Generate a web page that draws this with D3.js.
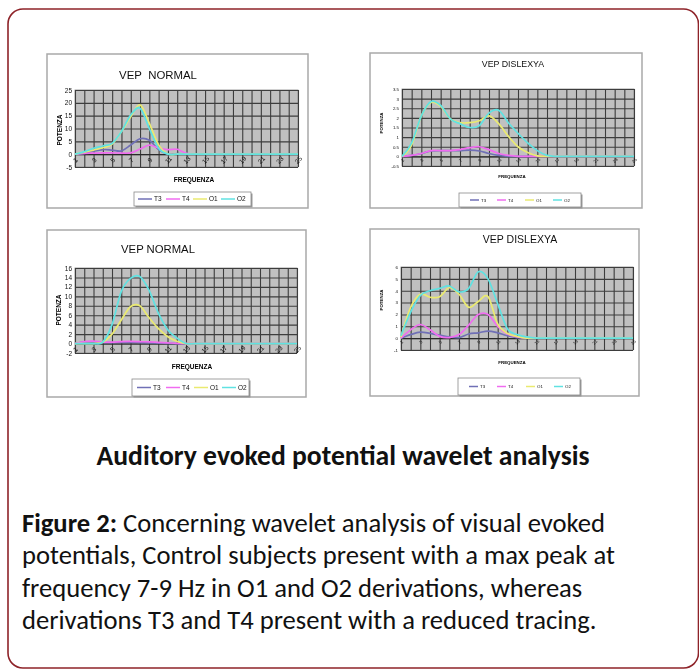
<!DOCTYPE html>
<html>
<head>
<meta charset="utf-8">
<script src="https://cdn.jsdelivr.net/npm/d3@7"></script>
<style>
  html, body { margin: 0; padding: 0; background: #fff; }
  svg { display: block; }
</style>
</head>
<body>
<div id="figure"></div>
<script>
// categories on the frequency axis and the labelled ones
const freq = [1, 2, 3, 4, 5, 6, 7, 8, 9, 10, 11, 12, 13, 14, 15, 16, 17, 18, 19, 20, 21, 22, 23, 24, 25];
const freqTicks = [1, 3, 5, 7, 9, 11, 13, 15, 17, 19, 21, 23, 25];
const seriesNames = ["T3", "T4", "O1", "O2"];
const seriesColors = ["#7070b6", "#f06cf0", "#eaea70", "#60e2e2"];

// VEP NORMAL (top left)
const normA_T3 = [0, 0.3, 1.2, 1.8, 1.6, 1.3, 3.6, 6.0, 5.4, 1.8, 0, 0.2, 0, 0, 0, 0, 0, 0, 0, 0, 0, 0, 0, 0, 0];
const normA_T4 = [0, 0.3, 0.4, 0.5, 0.5, 0.4, 0.5, 2.0, 3.5, 2.4, 1.8, 1.9, 0.3, 0, 0, 0, 0, 0, 0, 0, 0, 0, 0, 0, 0];
const normA_O1 = [0, 0.8, 1.6, 2.5, 3.9, 8.8, 14.6, 19.2, 12.0, 3.6, 0.1, 0, 0, 0, 0, 0, 0, 0, 0, 0, 0, 0, 0, 0, 0];
const normA_O2 = [0, 1.0, 2.3, 3.2, 4.2, 8.8, 15.3, 17.9, 10.0, 2.3, 0, 0, 0, 0, 0, 0, 0, 0, 0, 0, 0, 0, 0, 0, 0];
const normA_yTicks = [-5, 0, 5, 10, 15, 20, 25];

// VEP DISLEXYA (top right)
const dysB_T3 = [0, 0.05, 0.15, 0.28, 0.3, 0.3, 0.3, 0.32, 0.28, 0.15, 0.05, 0, 0, 0, 0, 0, 0, 0, 0, 0, 0, 0, 0, 0, 0];
const dysB_T4 = [0, 0.05, 0.15, 0.3, 0.3, 0.3, 0.35, 0.45, 0.5, 0.35, 0.15, 0.05, 0, 0, 0, 0, 0, 0, 0, 0, 0, 0, 0, 0, 0];
const dysB_O1 = [0, 0.6, 2.1, 2.8, 2.6, 1.95, 1.75, 1.75, 1.85, 2.1, 1.7, 1.05, 0.5, 0.2, 0.03, 0, 0, 0, 0, 0, 0, 0, 0, 0, 0];
const dysB_O2 = [0, 0.7, 2.1, 2.85, 2.65, 1.95, 1.7, 1.5, 1.6, 2.25, 2.4, 1.75, 1.2, 0.7, 0.3, 0.05, 0, 0, 0, 0, 0, 0, 0, 0, 0];
const dysB_yTicks = [-0.5, 0, 0.5, 1, 1.5, 2, 2.5, 3, 3.5];

// VEP NORMAL (bottom left)
const normC_T3 = [0, 0.3, 0.3, 0.2, 0.2, 0.25, 0.25, 0.2, 0.15, 0.1, 0.05, 0, 0, 0, 0, 0, 0, 0, 0, 0, 0, 0, 0, 0, 0];
const normC_T4 = [0, 0.4, 0.5, 0.3, 0.3, 0.4, 0.45, 0.4, 0.35, 0.25, 0.15, 0.05, 0, 0, 0, 0, 0, 0, 0, 0, 0, 0, 0, 0, 0];
const normC_O1 = [0, 0, 0, 0.3, 2.0, 5.0, 7.8, 8.0, 5.5, 3.2, 1.5, 0.5, 0, 0, 0, 0, 0, 0, 0, 0, 0, 0, 0, 0, 0];
const normC_O2 = [0, 0, 0, 0.3, 4.0, 11.0, 13.8, 14.2, 11.3, 6.5, 3.0, 1.2, 0, 0, 0, 0, 0, 0, 0, 0, 0, 0, 0, 0, 0];
const normC_yTicks = [-2, 0, 2, 4, 6, 8, 10, 12, 14, 16];

// VEP DISLEXYA (bottom right)
const dysD_T3 = [0, 0.3, 0.5, 0.4, 0.25, 0.1, 0.05, 0.35, 0.45, 0.6, 0.45, 0.2, 0.05, 0, 0, 0, 0, 0, 0, 0, 0, 0, 0, 0, 0];
const dysD_T4 = [0, 0.7, 1.15, 0.7, 0.15, 0.05, 0.3, 1.1, 2.0, 2.0, 1.0, 0.35, 0.1, 0.02, 0, 0, 0, 0, 0, 0, 0, 0, 0, 0, 0];
const dysD_O1 = [0.1, 2.6, 3.7, 3.45, 3.5, 4.25, 3.7, 2.6, 3.1, 3.5, 1.2, 0.4, 0.15, 0, 0, 0, 0, 0, 0, 0, 0, 0, 0, 0, 0];
const dysD_O2 = [0.2, 2.2, 3.6, 4.0, 4.2, 4.4, 3.9, 4.2, 5.6, 5.0, 2.9, 0.8, 0.3, 0.1, 0, 0, 0, 0, 0, 0, 0, 0, 0, 0, 0];
const dysD_yTicks = [-1, 0, 1, 2, 3, 4, 5, 6];

const heading = "Auditory evoked potential wavelet analysis";
const captionBold = "Figure 2:";
const captionLines = [
  " Concerning wavelet analysis of visual evoked",
  "potentials, Control subjects present with a max peak at",
  "frequency 7-9 Hz in O1 and O2 derivations, whereas",
  "derivations T3 and T4 present with a reduced tracing."
];

const W = 699, H = 670;
const chartFont = "'Liberation Sans', Arial, sans-serif";
const textFont = "Carlito, Calibri, Lato, 'Open Sans', sans-serif";

// panel layouts
const panels = [
  { title: "VEP\u00a0\u00a0NORMAL", series: [normA_T3, normA_T4, normA_O1, normA_O2], yTicks: normA_yTicks,
    box: [47, 54, 308, 208], plot: [75, 90, 298, 167], titlePos: [158, 79], titleSize: 11.4,
    tick: 6.5, ylab: [60, 130], xlab: [194, 180], legend: [134, 192, 251, 206], legendX: [138, 166, 193, 221], lw: 14 },
  { title: "VEP DISLEXYA", series: [dysB_T3, dysB_T4, dysB_O1, dysB_O2], yTicks: dysB_yTicks,
    box: [370, 53, 642, 208], plot: [402, 89, 634, 166], titlePos: [513, 67], titleSize: 8.8,
    tick: 4.4, ylab: [381, 123], xlab: [512, 176], legend: [459, 193, 581, 207], legendX: [470, 497, 525, 553], lw: 9 },
  { title: "VEP NORMAL", series: [normC_T3, normC_T4, normC_O1, normC_O2], yTicks: normC_yTicks,
    box: [47, 230, 306, 397], plot: [75, 268, 297, 353], titlePos: [158, 253], titleSize: 11.3,
    tick: 6.5, ylab: [59, 310], xlab: [192, 367], legend: [132, 379, 249, 396], legendX: [137, 166, 194, 222], lw: 14 },
  { title: "VEP DISLEXYA", series: [dysD_T3, dysD_T4, dysD_O1, dysD_O2], yTicks: dysD_yTicks,
    box: [370, 229, 639, 396], plot: [401, 267, 633, 350], titlePos: [520, 243], titleSize: 10.5,
    tick: 4.4, ylab: [381, 300], xlab: [512, 362], legend: [458, 378, 580, 395], legendX: [469, 497, 526, 554], lw: 9, cutBorder: true }
];

const svg = d3.select("#figure").append("svg")
  .attr("width", W).attr("height", H);

const defs = svg.append("defs");
defs.append("filter").attr("id", "soft")
  .attr("x", "-5%").attr("y", "-5%").attr("width", "110%").attr("height", "110%")
  .append("feGaussianBlur").attr("stdDeviation", 0.55);

// outer rounded frame, its right side runs into the page edge
svg.append("rect")
  .attr("x", 8).attr("y", 9).attr("width", 690.5).attr("height", 659)
  .attr("rx", 15).attr("ry", 15)
  .attr("fill", "none").attr("stroke", "#8e2329").attr("stroke-width", 1.6);

const charts = svg.append("g").attr("filter", "url(#soft)");
const numFmt = d => String(d);

panels.forEach(function(p) {
  const g = charts.append("g");
  const [bx0, by0, bx1, by1] = p.box;
  const [px0, py0, px1, py1] = p.plot;

  g.append("rect")
    .attr("x", bx0).attr("y", by0).attr("width", bx1 - bx0).attr("height", by1 - by0)
    .attr("fill", "#fff").attr("stroke", "#a9a9a9").attr("stroke-width", 1.5);

  const x = d3.scaleLinear().domain([freq[0], freq[freq.length - 1]]).range([px0, px1]);
  const y = d3.scaleLinear().domain(d3.extent(p.yTicks)).range([py1, py0]);

  g.append("rect")
    .attr("x", px0).attr("y", py0).attr("width", px1 - px0).attr("height", py1 - py0)
    .attr("fill", "#c0c0c0").attr("stroke", "#8a8a8a").attr("stroke-width", 0.8);

  // gridlines
  const vGrid = g.append("g")
    .attr("transform", "translate(0," + py1 + ")")
    .call(d3.axisBottom(x).tickValues(freq).tickSize(-(py1 - py0)).tickFormat(""));
  const hGrid = g.append("g")
    .attr("transform", "translate(" + px0 + ",0)")
    .call(d3.axisLeft(y).tickValues(p.yTicks).tickSize(-(px1 - px0)).tickFormat(""));
  [vGrid, hGrid].forEach(function(a) {
    a.select(".domain").remove();
    a.selectAll("line").attr("stroke", "#3c3c3c").attr("stroke-width", 1.1);
  });

  // y axis labels
  const yAxis = g.append("g")
    .attr("transform", "translate(" + px0 + ",0)")
    .call(d3.axisLeft(y).tickValues(p.yTicks).tickSize(0).tickPadding(3).tickFormat(numFmt));
  yAxis.select(".domain").remove();
  yAxis.selectAll("text")
    .attr("font-family", chartFont).attr("font-size", p.tick).attr("fill", "#111");

  // category axis sits on the zero line
  const xAxis = g.append("g")
    .attr("transform", "translate(0," + y(0) + ")")
    .call(d3.axisBottom(x).tickValues(freqTicks).tickSize(0).tickFormat(numFmt));
  xAxis.select(".domain").attr("stroke", "#222").attr("stroke-width", 0.8);
  xAxis.selectAll("text")
    .attr("font-family", chartFont).attr("font-size", p.tick).attr("fill", "#111")
    .attr("text-anchor", "middle")
    .attr("y", p.tick * 0.9)
    .attr("dy", "0.35em")
    .attr("transform", "rotate(-45 0 " + (p.tick * 0.9) + ")");

  // axis titles
  g.append("text")
    .attr("transform", "translate(" + p.ylab[0] + "," + p.ylab[1] + ") rotate(-90)")
    .attr("text-anchor", "middle").attr("dy", "0.35em")
    .attr("font-family", chartFont).attr("font-weight", "bold").attr("font-size", p.tick)
    .text("POTENZA");
  g.append("text")
    .attr("x", p.xlab[0]).attr("y", p.xlab[1])
    .attr("text-anchor", "middle").attr("dy", "0.35em")
    .attr("font-family", chartFont).attr("font-weight", "bold").attr("font-size", p.tick)
    .text("FREQUENZA");

  // series lines (smoothed like the spreadsheet export)
  const line = d3.line()
    .x((d, i) => x(freq[i]))
    .y(d => y(d))
    .curve(d3.curveCatmullRom.alpha(0));
  p.series.forEach(function(s, k) {
    g.append("path")
      .attr("d", line(s))
      .attr("fill", "none")
      .attr("stroke", seriesColors[k])
      .attr("stroke-width", 1.7);
  });

  // title (the last panel's title breaks the box border)
  const titleBg = g.append("rect").attr("fill", "#fff");
  const title = g.append("text")
    .attr("x", p.titlePos[0]).attr("y", p.titlePos[1])
    .attr("text-anchor", "middle")
    .attr("font-family", chartFont).attr("font-size", p.titleSize).attr("fill", "#111")
    .text(p.title);
  if (p.cutBorder) {
    const bb = title.node().getBBox();
    titleBg.attr("x", bb.x - 14).attr("y", bb.y - 2)
      .attr("width", bb.width + 28).attr("height", bb.height + 2);
  } else {
    titleBg.remove();
  }

  // legend
  const [lx0, ly0, lx1, ly1] = p.legend;
  g.append("rect")
    .attr("x", lx0 + 1.5).attr("y", ly0 + 1.5).attr("width", lx1 - lx0).attr("height", ly1 - ly0)
    .attr("fill", "#9a9a9a");
  g.append("rect")
    .attr("x", lx0).attr("y", ly0).attr("width", lx1 - lx0).attr("height", ly1 - ly0)
    .attr("fill", "#fff").attr("stroke", "#8a8a8a").attr("stroke-width", 0.8);
  const lyMid = (ly0 + ly1) / 2;
  seriesNames.forEach(function(name, k) {
    const sx = p.legendX[k];
    g.append("line")
      .attr("x1", sx).attr("x2", sx + p.lw).attr("y1", lyMid).attr("y2", lyMid)
      .attr("stroke", seriesColors[k]).attr("stroke-width", 1.5);
    g.append("text")
      .attr("x", sx + p.lw + 2).attr("y", lyMid).attr("dy", "0.35em")
      .attr("font-family", chartFont).attr("font-size", p.tick).attr("fill", "#111")
      .text(name);
  });
});

// fit a text element to a target width
function fitWidth(sel, target) {
  const w = sel.node().getComputedTextLength();
  const fs = parseFloat(sel.attr("font-size"));
  sel.attr("font-size", (fs * target / w).toFixed(2));
  return fs * target / w;
}

const head = svg.append("text")
  .attr("x", 343).attr("y", 465)
  .attr("text-anchor", "middle")
  .attr("font-family", textFont).attr("font-weight", "bold").attr("font-size", 22)
  .attr("fill", "#111")
  .text(heading);
fitWidth(head, 493);

const cap = svg.append("g")
  .attr("font-family", textFont).attr("fill", "#111");
const first = cap.append("text").attr("x", 22).attr("y", 532).attr("font-size", 22);
first.append("tspan").attr("font-weight", "bold").text(captionBold);
first.append("tspan").text(captionLines[0]);
const capSize = fitWidth(first, 583);
captionLines.slice(1).forEach(function(t, i) {
  cap.append("text")
    .attr("x", 22).attr("y", 532 + (i + 1) * 32.3)
    .attr("font-size", capSize.toFixed(2))
    .text(t);
});
</script>
</body>
</html>
